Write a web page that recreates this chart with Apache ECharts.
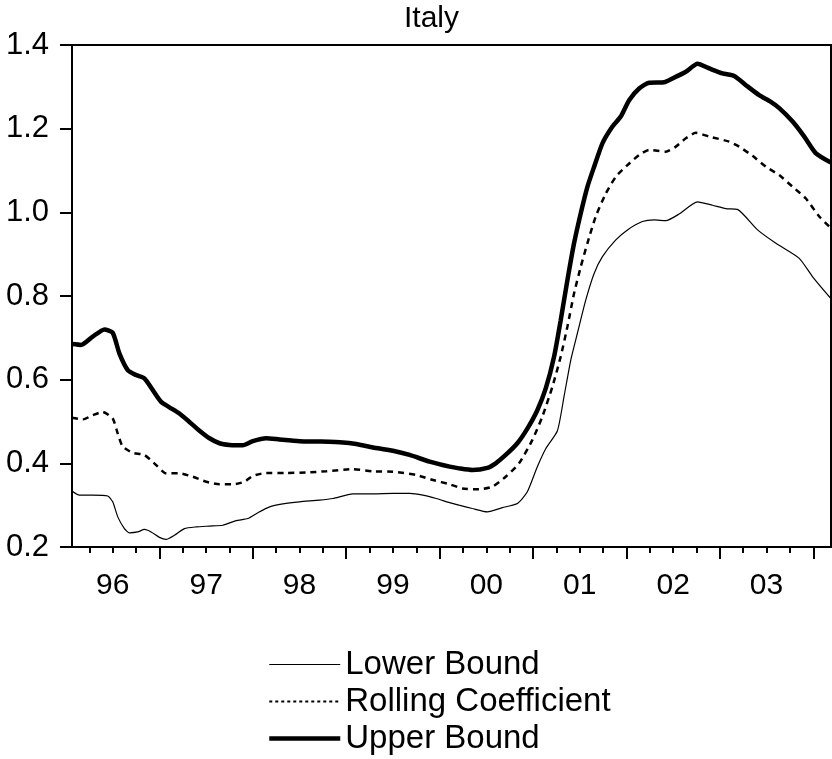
<!DOCTYPE html>
<html><head><meta charset="utf-8">
<script src="https://cdn.jsdelivr.net/npm/echarts@6/dist/echarts.min.js"></script>
<style>html,body{margin:0;padding:0;background:#fff}#c{width:832px;height:759px}</style>
</head><body><div id="c"></div>
<script>
// ---- data (decimal years / values) ----
const years = [1996, 1997, 1998, 1999, 2000, 2001, 2002, 2003, 2004];
const yearLabels = ['96', '97', '98', '99', '00', '01', '02', '03'];
const seriesNames = ['Lower Bound', 'Rolling Coefficient', 'Upper Bound'];

const upperT = [1996.064, 1996.161, 1996.286, 1996.411, 1996.5, 1996.571, 1996.661, 1996.75, 1996.839, 1996.929,
  1997.018, 1997.107, 1997.214, 1997.321, 1997.429, 1997.536, 1997.643, 1997.75, 1997.893, 1998.0,
  1998.143, 1998.286, 1998.5, 1998.714, 1998.964, 1999.107, 1999.286, 1999.5, 1999.679, 1999.893,
  2000.107, 2000.207, 2000.35, 2000.511, 2000.6, 2000.707, 2000.832, 2000.939, 2001.046, 2001.136,
  2001.225, 2001.296, 2001.368, 2001.439, 2001.511, 2001.582, 2001.654, 2001.743, 2001.85, 2001.939,
  2002.029, 2002.136, 2002.243, 2002.404, 2002.493, 2002.636, 2002.761, 2002.886, 2003.029, 2003.154,
  2003.279, 2003.421, 2003.546, 2003.636, 2003.779, 2003.904, 2004.029, 2004.189];
const upperV = [0.685, 0.683, 0.703, 0.720, 0.712, 0.663, 0.623, 0.611, 0.603, 0.575,
  0.547, 0.534, 0.519, 0.499, 0.478, 0.460, 0.448, 0.444, 0.443, 0.453,
  0.460, 0.457, 0.453, 0.452, 0.450, 0.446, 0.438, 0.430, 0.420, 0.404,
  0.392, 0.388, 0.384, 0.389, 0.400, 0.420, 0.448, 0.483, 0.527, 0.579,
  0.655, 0.742, 0.838, 0.926, 0.998, 1.061, 1.109, 1.165, 1.205, 1.229,
  1.268, 1.296, 1.310, 1.311, 1.320, 1.336, 1.355, 1.344, 1.332, 1.326,
  1.304, 1.280, 1.264, 1.249, 1.217, 1.181, 1.141, 1.119];

const rollingT = [1996.064, 1996.179, 1996.286, 1996.393, 1996.5, 1996.554, 1996.607, 1996.714, 1996.839, 1996.964,
  1997.071, 1997.214, 1997.357, 1997.5, 1997.643, 1997.786, 1997.911, 1998.0, 1998.143, 1998.357,
  1998.571, 1998.786, 1999.071, 1999.286, 1999.5, 1999.75, 1999.929, 2000.107,
  2000.243, 2000.421, 2000.564, 2000.707, 2000.85, 2000.993, 2001.1, 2001.207, 2001.296, 2001.368,
  2001.439, 2001.511, 2001.582, 2001.671, 2001.779, 2001.886, 2002.011, 2002.136, 2002.243, 2002.421,
  2002.529, 2002.636, 2002.743, 2002.886, 2003.1, 2003.207, 2003.35, 2003.493, 2003.636, 2003.779,
  2003.921, 2004.064, 2004.189];
const rollingV = [0.509, 0.505, 0.515, 0.523, 0.507, 0.471, 0.440, 0.425, 0.420, 0.396,
  0.376, 0.376, 0.368, 0.356, 0.350, 0.350, 0.356, 0.370, 0.377, 0.377,
  0.378, 0.381, 0.386, 0.381, 0.380, 0.372, 0.360, 0.350,
  0.340, 0.338, 0.344, 0.368, 0.400, 0.456, 0.512, 0.583, 0.655, 0.727,
  0.806, 0.870, 0.926, 0.990, 1.045, 1.085, 1.113, 1.137, 1.149, 1.145,
  1.157, 1.177, 1.190, 1.181, 1.169, 1.157, 1.135, 1.109, 1.089, 1.061,
  1.033, 0.990, 0.962];

const lowerT = [1996.064, 1996.143, 1996.286, 1996.446, 1996.5, 1996.554, 1996.625, 1996.679, 1996.768, 1996.839,
  1996.911, 1997.0, 1997.071, 1997.161, 1997.268, 1997.393, 1997.536, 1997.679, 1997.821, 1997.946,
  1998.054, 1998.179, 1998.321, 1998.5, 1998.714, 1998.857, 1999.071, 1999.286, 1999.5, 1999.679,
  1999.821, 1999.964, 2000.107,
  2000.207, 2000.35, 2000.511, 2000.671, 2000.832, 2000.939, 2001.046, 2001.136, 2001.261, 2001.332,
  2001.404, 2001.475, 2001.564, 2001.654, 2001.743, 2001.886, 2002.011, 2002.171, 2002.296, 2002.421,
  2002.564, 2002.761, 2002.921, 2003.064, 2003.189, 2003.404, 2003.6, 2003.85, 2003.993, 2004.189];
const lowerV = [0.334, 0.324, 0.324, 0.322, 0.308, 0.272, 0.244, 0.234, 0.236, 0.242,
  0.236, 0.223, 0.218, 0.228, 0.244, 0.248, 0.250, 0.252, 0.263, 0.268,
  0.282, 0.296, 0.303, 0.308, 0.312, 0.316, 0.327, 0.327, 0.328, 0.328,
  0.324, 0.316, 0.306,
  0.300, 0.292, 0.284, 0.294, 0.304, 0.332, 0.392, 0.435, 0.478, 0.560,
  0.647, 0.711, 0.790, 0.854, 0.894, 0.934, 0.958, 0.978, 0.982, 0.980,
  0.996, 1.025, 1.017, 1.009, 1.007, 0.958, 0.926, 0.890, 0.846, 0.794];

const xMin = 1996.064, xMax = 2004.19;

// ---- axis tick positions ----
const yearStarts = years.filter(y => y > xMin && y <= xMax);
const quarterTicks = [];
years.forEach(y => [0.25, 0.5, 0.75].forEach(q => { if (y + q > xMin && y + q < xMax) quarterTicks.push(y + q); }));
const labelPos = yearLabels.map((l, i) => years[i] + 0.5);

const zip = (t, v) => t.map((x, i) => [x, v[i]]);
const FONT = "'Liberation Sans', Arial, sans-serif";
const lineStyles = [
  { color: '#000', width: 1.2 },
  { color: '#000', width: 2.5, type: [6, 5] },
  { color: '#000', width: 4.5 }
];

const chart = echarts.init(document.getElementById('c'), null, { renderer: 'canvas' });
chart.setOption({
  animation: false,
  backgroundColor: '#fff',
  title: {
    text: 'Italy', left: 404, top: 4, padding: 0,
    textStyle: { fontFamily: FONT, fontSize: 30, fontWeight: 'normal', color: '#000', lineHeight: 30 }
  },
  grid: { left: 72, top: 45, width: 759, height: 502, show: true, borderColor: '#000', borderWidth: 2, backgroundColor: 'transparent' },
  legend: {
    orient: 'vertical', left: 267, top: 648, width: 500, height: 300, padding: 0, itemWidth: 71, itemHeight: 14, itemGap: 4,
    data: seriesNames.map((n, i) => ({ name: n, lineStyle: Object.assign({}, lineStyles[i], { type: i === 1 ? [3, 3] : 'solid', width: i === 1 ? 2 : lineStyles[i].width }) })),
    itemStyle: { opacity: 0, color: 'transparent', borderColor: 'transparent', borderWidth: 0 },
    textStyle: { fontFamily: FONT, fontSize: 33, color: '#000', lineHeight: 33 }
  },
  xAxis: [{
    type: 'value', min: xMin, max: xMax, position: 'bottom',
    axisLine: { show: true, onZero: false, lineStyle: { color: '#000', width: 2 } },
    axisTick: { show: true, length: 6, lineStyle: { color: '#000', width: 2 }, customValues: quarterTicks },
    axisLabel: { show: true, margin: 24, customValues: labelPos, fontFamily: FONT, fontSize: 30, color: '#000', lineHeight: 30,
      formatter: v => yearLabels[years.indexOf(Math.floor(v))] },
    splitLine: { show: false }
  }, {
    type: 'value', min: xMin, max: xMax, position: 'bottom',
    axisLine: { show: false, onZero: false },
    axisTick: { show: true, length: 12, lineStyle: { color: '#000', width: 2 }, customValues: yearStarts },
    axisLabel: { show: false },
    splitLine: { show: false }
  }],
  yAxis: {
    type: 'value', min: 0.2, max: 1.4, interval: 0.2,
    axisLine: { show: true, onZero: false, lineStyle: { color: '#000', width: 2 } },
    axisTick: { show: true, length: 12, lineStyle: { color: '#000', width: 2 } },
    axisLabel: { margin: 23, fontFamily: FONT, fontSize: 31, color: '#000', padding: [5, 0, 0, 0], formatter: v => v.toFixed(1) },
    splitLine: { show: false }
  },
  series: [
    { name: seriesNames[0], type: 'line', data: zip(lowerT, lowerV), symbol: 'none', smooth: 0.2,
      lineStyle: lineStyles[0], itemStyle: { color: '#000' } },
    { name: seriesNames[1], type: 'line', data: zip(rollingT, rollingV), symbol: 'none', smooth: 0.2,
      lineStyle: lineStyles[1], itemStyle: { color: '#000' } },
    { name: seriesNames[2], type: 'line', data: zip(upperT, upperV), symbol: 'none', smooth: 0.2,
      lineStyle: lineStyles[2], itemStyle: { color: '#000' } }
  ]
});
</script>
</body></html>
